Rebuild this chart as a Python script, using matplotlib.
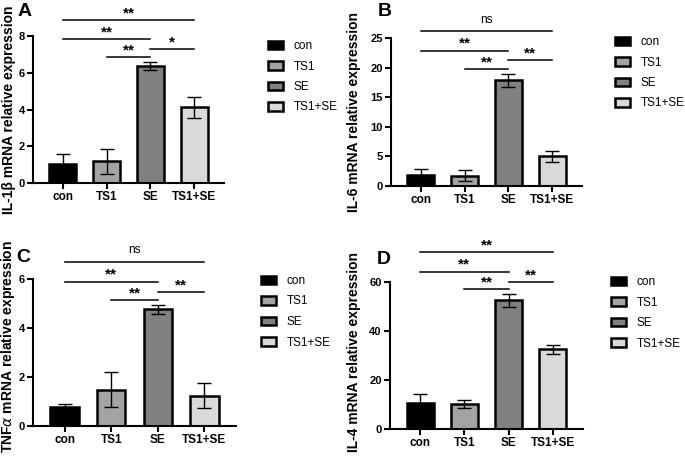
import matplotlib
matplotlib.use("Agg")
import matplotlib.pyplot as plt

plt.rcParams['font.family'] = ['Liberation Sans', 'DejaVu Sans']

groups = ['con', 'TS1', 'SE', 'TS1+SE']

il1b_mean = [1.04, 1.18, 6.38, 4.12]
il1b_err = [0.53, 0.68, 0.21, 0.56]
il6_mean = [1.85, 1.75, 17.85, 5.0]
il6_err = [0.95, 0.9, 1.15, 0.95]
tnf_mean = [0.78, 1.48, 4.76, 1.24]
tnf_err = [0.13, 0.72, 0.19, 0.52]
il4_mean = [10.5, 10.1, 52.5, 32.6]
il4_err = [3.6, 1.6, 2.8, 1.8]

# significance: (group i, group j, line height, label)
sig_a = [(0, 3, 8.86, '**'), (0, 2, 7.83, '**'), (1, 2, 6.85, '**'), (2, 3, 7.28, '*')]
sig_b = [(0, 3, 26.1, 'ns'), (0, 2, 22.85, '**'), (1, 2, 19.76, '**'), (2, 3, 21.2, '**')]
sig_c = [(0, 3, 6.7, 'ns'), (0, 2, 5.88, '**'), (1, 2, 5.14, '**'), (2, 3, 5.47, '**')]
sig_d = [(0, 3, 72.2, '**'), (0, 2, 64.1, '**'), (1, 2, 57.1, '**'), (2, 3, 60.0, '**')]

colors = ['#000000', '#a3a3a3', '#808080', '#d9d9d9']

W, H = 685, 461
fig = plt.figure(figsize=(W / 100, H / 100), dpi=100)


def px_axes(l, r, t, b):
    return fig.add_axes([l / W, 1 - b / H, (r - l) / W, (b - t) / H])


panels = [
    dict(box=(33, 224, 36, 183), mean=il1b_mean, err=il1b_err, sig=sig_a,
         ylim=8, yticks=[0, 2, 4, 6, 8], ylabel='IL-1β mRNA relative expression',
         letter='A', letter_xy=(18, 16), lab_x=9, lab_y=110, leg=(268, 40)),
    dict(box=(391, 582, 38, 186), mean=il6_mean, err=il6_err, sig=sig_b,
         ylim=25, yticks=[0, 5, 10, 15, 20, 25], ylabel='IL-6 mRNA relative expression',
         letter='B', letter_xy=(378, 16), lab_x=354, lab_y=112, leg=(615, 36)),
    dict(box=(33, 236, 279, 426), mean=tnf_mean, err=tnf_err, sig=sig_c,
         ylim=6, yticks=[0, 2, 4, 6], ylabel=r'TNF$\alpha$ mRNA relative expression',
         letter='C', letter_xy=(16, 262), lab_x=8, lab_y=346, leg=(261, 275)),
    dict(box=(390, 583, 282, 429), mean=il4_mean, err=il4_err, sig=sig_d,
         ylim=60, yticks=[0, 20, 40, 60], ylabel='IL-4 mRNA relative expression',
         letter='D', letter_xy=(377, 264), lab_x=354, lab_y=352, leg=(611, 276)),
]

x = list(range(len(groups)))
for p in panels:
    l, r, t, b = p['box']
    ax = px_axes(l, r, t, b)
    bars = ax.bar(x, p['mean'], width=0.61, color=colors, edgecolor='black',
                  linewidth=1.8, zorder=2, label=groups)
    ax.errorbar(x, p['mean'], yerr=p['err'], fmt='none', ecolor='black',
                elinewidth=1.0, capsize=5, capthick=1.0, zorder=3)
    ax.set_xlim(-0.68, 3.68)
    ax.set_ylim(0, p['ylim'])
    ax.set_yticks(p['yticks'])
    ax.set_xticks(x)
    ax.set_xticklabels(groups, fontsize=8.5, fontweight='bold')
    for lab in ax.get_yticklabels():
        lab.set_fontweight('bold')
        lab.set_fontsize(8)
    for s in ['top', 'right']:
        ax.spines[s].set_visible(False)
    for s in ['left', 'bottom']:
        ax.spines[s].set_linewidth(1.5)
    ax.tick_params(axis='both', direction='out', length=4, width=1.5, pad=2)
    ax.set_ylabel(p['ylabel'], fontsize=10, fontweight='bold')
    ax.yaxis.set_label_coords((p['lab_x'] - l) / (r - l), (b - p['lab_y']) / (b - t))
    ax.yaxis.label.set_va('center')

    for i, j, h, txt in p['sig']:
        ax.plot([i, j], [h, h], color='black', lw=1.1, clip_on=False, zorder=4)
        if txt == 'ns':
            ax.annotate(txt, xy=((i + j) / 2, h), xytext=(0, 4), textcoords='offset points',
                        ha='center', va='bottom', fontsize=8.5, annotation_clip=False)
        else:
            ax.annotate(txt, xy=((i + j) / 2, h), xytext=(0, 0), textcoords='offset points',
                        ha='center', va='bottom', fontsize=11, fontweight='bold',
                        annotation_clip=False)

    fig.text(p['letter_xy'][0] / W, 1 - p['letter_xy'][1] / H, p['letter'],
             fontsize=14, fontweight='bold', ha='left', va='baseline')

    lx, ly = p['leg']
    ax.legend(handles=list(bars), labels=groups, loc='upper left',
              bbox_to_anchor=(lx / W, 1 - ly / H), bbox_transform=fig.transFigure,
              frameon=False, fontsize=8.5, borderpad=0, borderaxespad=0,
              handlelength=1.3, handleheight=0.75, handletextpad=0.85,
              labelspacing=0.72)

fig.savefig('out.png', dpi=100)
